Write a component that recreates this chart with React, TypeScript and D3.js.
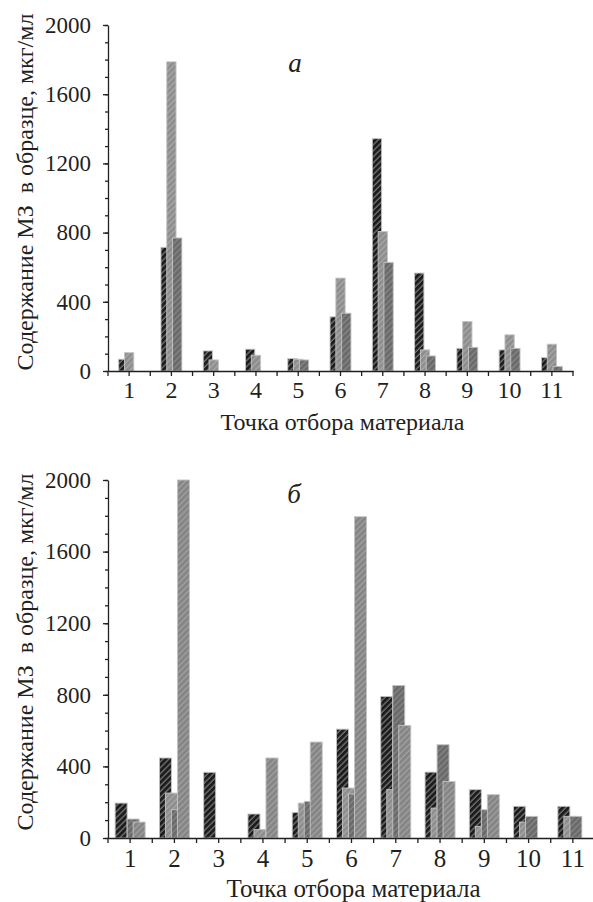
import React, { useEffect, useRef } from "react";
import * as d3 from "d3";

// sampling points (x categories)
const points = ["1", "2", "3", "4", "5", "6", "7", "8", "9", "10", "11"];
const yTicks = [0, 400, 800, 1200, 1600, 2000];

// panel "а" — three series
const aSeries1 = [68, 715, 116, 126, 72, 313, 1343, 566, 131, 122, 77];
const aSeries2 = [106, 1787, 64, 91, 68, 537, 806, 122, 286, 209, 155];
const aSeries3 = [0, 769, 0, 0, 64, 334, 628, 87, 137, 131, 27];

// panel "б" — four series
const bSeries1 = [195, 447, 367, 134, 143, 608, 791, 368, 270, 177, 177];
const bSeries2 = [0, 251, 0, 47, 195, 279, 270, 167, 65, 89, 121];
const bSeries3 = [106, 158, 0, 0, 205, 246, 852, 521, 158, 121, 121];
const bSeries4 = [89, 2000, 0, 447, 536, 1795, 629, 316, 242, 0, 0];

const yTitle = "Содержание МЗ  в образце, мкг/мл";
const xTitle = "Точка отбора материала";

const ink = "#231f20";
const font = "'Liberation Serif', 'Times New Roman', serif";

// fill / hatch line colour per pattern
const hatches = {
  black: { fill: "#1c1c1c", line: "#7c7c7c", w: 1.2 },
  light: { fill: "#8e8e8e", line: "#b4b4b4", w: 0.9 },
  dark: { fill: "#6a6a6a", line: "#929292", w: 0.9 },
  mid: { fill: "#858585", line: "#acacac", w: 0.9 },
};

function Panel({ id, series, fills, top, bottom, left, right, barW, barStep, label, labelX, labelY, titleX, titleY, xTitleY, xTitleSize, xFont, xPad }) {
  const ref = useRef(null);

  useEffect(() => {
    const g = d3.select(ref.current);
    g.selectAll("*").remove();

    const x = d3.scaleBand().domain(points).range([left, right]);
    const y = d3.scaleLinear().domain([0, 2000]).range([bottom, top]);

    // bars, later series drawn on top of earlier ones
    const groupW = barStep * (series.length - 1) + barW;
    series.forEach((vals, si) => {
      g.append("g")
        .selectAll("rect")
        .data(vals.map((v, i) => ({ v, cat: points[i] })).filter((d) => d.v > 0))
        .enter()
        .append("rect")
        .attr("x", (d) => x(d.cat) + x.bandwidth() / 2 - groupW / 2 + si * barStep)
        .attr("y", (d) => y(d.v))
        .attr("width", barW)
        .attr("height", (d) => bottom - y(d.v))
        .attr("fill", `url(#${id}-${fills[si]})`)
        .attr("stroke", "#c4c4c4")
        .attr("stroke-width", 0.9);
    });

    // y axis: minor then major
    const yMinor = g.append("g").attr("transform", `translate(${left},0)`)
      .call(d3.axisLeft(y).tickValues(d3.range(0, 2001, 100)).tickSize(3).tickSizeOuter(0).tickFormat(() => ""));
    yMinor.select(".domain").remove();
    const yAxis = g.append("g").attr("transform", `translate(${left},0)`)
      .call(d3.axisLeft(y).tickValues(yTicks).tickSize(5).tickSizeOuter(0).tickPadding(12).tickFormat(d3.format("d")));
    yAxis.selectAll("text").attr("font-family", font).attr("font-size", 23).attr("fill", ink);

    // x axis
    const xAxis = g.append("g").attr("transform", `translate(0,${bottom})`)
      .call(d3.axisBottom(x).tickSize(5).tickSizeOuter(0).tickPadding(xPad));
    xAxis.selectAll("text").attr("font-family", font).attr("font-size", xFont).attr("fill", ink);
    // boundary ticks between the points
    xAxis.append("g")
      .selectAll("line")
      .data(d3.range(points.length + 1))
      .enter()
      .append("line")
      .attr("x1", (i) => left + i * x.step())
      .attr("x2", (i) => left + i * x.step())
      .attr("y1", 0)
      .attr("y2", 5)
      .attr("stroke", ink);

    g.selectAll(".domain, .tick line").attr("stroke", ink).attr("stroke-width", 1.3);
    xAxis.selectAll("line").attr("stroke-width", 1.3);
  }, []);

  return (
    <g>
      <defs>
        {Object.entries(hatches).map(([k, h]) => (
          <pattern key={k} id={`${id}-${k}`} patternUnits="userSpaceOnUse" width={4.2} height={4.2} patternTransform="rotate(45)">
            <rect width={4.2} height={4.2} fill={h.fill} />
            <line x1={1} y1={0} x2={1} y2={4.2} stroke={h.line} strokeWidth={h.w} />
          </pattern>
        ))}
      </defs>
      <g ref={ref} />
      <text
        transform={`translate(${titleX},${titleY}) rotate(-90)`}
        textAnchor="middle"
        fontFamily={font}
        fontSize={24}
        fill={ink}
        style={{ whiteSpace: "pre" }}
      >
        {yTitle}
      </text>
      <text x={(left + right) / 2 + 2} y={xTitleY} textAnchor="middle" fontFamily={font} fontSize={xTitleSize} fill={ink}>
        {xTitle}
      </text>
      <text x={labelX} y={labelY} textAnchor="middle" fontFamily={font} fontStyle="italic" fontSize={27} fill={ink}>
        {label}
      </text>
    </g>
  );
}

export default function App() {
  return (
    <svg width={593} height={902} style={{ position: "absolute", left: 0, top: 0, background: "#fff" }}>
      <rect width={593} height={902} fill="#fff" />
      <Panel
        id="pa"
        series={[aSeries1, aSeries2, aSeries3]}
        fills={["black", "light", "dark"]}
        top={25}
        bottom={371}
        left={108}
        right={573}
        barW={9.3}
        barStep={5.8}
        label="а"
        labelX={295}
        labelY={72}
        titleX={33}
        titleY={192}
        xTitleY={430}
        xTitleSize={24}
        xFont={24}
        xPad={5}
      />
      <Panel
        id="pb"
        series={[bSeries1, bSeries2, bSeries3, bSeries4]}
        fills={["black", "light", "dark", "mid"]}
        top={480}
        bottom={838}
        left={108}
        right={595}
        barW={12}
        barStep={6}
        label="б"
        labelX={294}
        labelY={503}
        titleX={33}
        titleY={652}
        xTitleY={897}
        xTitleSize={25}
        xFont={25}
        xPad={6}
      />
    </svg>
  );
}
